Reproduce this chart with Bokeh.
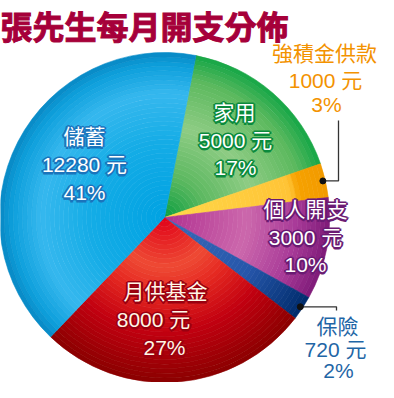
import numpy as np
from bokeh.plotting import figure
from bokeh.models import ColumnDataSource
from bokeh.core.properties import value
from bokeh.embed import file_html
from bokeh.resources import INLINE

# ---------------- data ----------------
title_text = "張先生每月開支分佈"
categories = ["家用", "強積金供款", "個人開支", "保險", "月供基金", "儲蓄"]
amounts = [5000, 1000, 3000, 720, 8000, 12280]
percents = [17, 3, 10, 2, 27, 41]
unit = "元"

# ---------------- styles / layout ----------------
W, H = 378, 382
CX, CY, R = 164, 165, 165
START_DEG = 11.0  # clockwise from 12 o'clock where first slice starts

# radial colour stops per slice (fraction of radius, colour)
slice_stops = [
    [(0.0, "#0a9e40"), (0.25, "#5cb860"), (0.55, "#8ecc84"), (0.85, "#5cb95e"), (1.0, "#14a646")],
    [(0.0, "#ffd84a"), (0.78, "#ffc436"), (0.83, "#f6a200"), (1.0, "#f29a00")],
    [(0.0, "#b03090"), (0.5, "#cc68ac"), (0.8, "#a83a98"), (1.0, "#7e1a78")],
    [(0.0, "#3a6ab8"), (0.6, "#2656aa"), (1.0, "#002c6c")],
    [(0.0, "#e00018"), (0.3, "#ee4a34"), (0.45, "#e62a22"), (0.7, "#c20010"), (1.0, "#8a0000")],
    [(0.0, "#00a2e2"), (0.45, "#14ace6"), (0.75, "#36b8ee"), (0.92, "#0ea0dc"), (1.0, "#0888c4")],
]

# label lines: (x, y) per line, data coordinates
label_pos = [
    [(234, 270), (235, 242), (235, 215)],
    [(324, 329), (325, 302), (326, 278)],
    [(305, 173), (305, 145), (305, 118)],
    [(337, 56), (335, 33), (338, 12)],
    [(165, 91), (153, 63), (164, 35)],
    [(84, 246), (84, 218), (84, 190)],
]
label_fill = ["#ffffff", "#f39200", "#ffffff", "#1f66a6", "#fff6e6", "#ffffff"]
label_outline = ["#0a8a3c", None, "#6a1a72", None, "#9a0010", "#1a74bc"]
LABEL_FONT = "'Liberation Sans', 'Noto Sans CJK TC', sans-serif"
HALO = [(-1.5, 0), (1.5, 0), (0, -1.5), (0, 1.5)]


def hex2rgb(h):
    h = h.lstrip("#")
    return np.array([int(h[i:i + 2], 16) for i in (0, 2, 4)], dtype=float)


def color_at(stops, f):
    for (f0, c0), (f1, c1) in zip(stops[:-1], stops[1:]):
        if f0 <= f <= f1:
            t = 0 if f1 == f0 else (f - f0) / (f1 - f0)
            c = hex2rgb(c0) * (1 - t) + hex2rgb(c1) * t
            return "#%02x%02x%02x" % tuple(int(round(v)) for v in c)
    return stops[-1][1]


p = figure(width=W, height=H, x_range=(0, W), y_range=(0, H),
           output_backend="svg", toolbar_location=None, min_border=0)
p.axis.visible = False
p.grid.visible = False
p.outline_line_color = None
p.background_fill_color = "white"
p.border_fill_color = "white"

total = float(sum(amounts))
cum = START_DEG
slice_angles = []
N = 36
xs, ys, rin, rout, a0s, a1s, cols = [], [], [], [], [], [], []
for i, amt in enumerate(amounts):
    span = amt / total * 360.0
    t0, t1 = cum, cum + span
    slice_angles.append((t0, t1))
    cum = t1
    start = np.radians(90 - t1)
    end = np.radians(90 - t0)
    for k in range(N):
        f0, f1 = k / N, (k + 1) / N
        xs.append(CX); ys.append(CY)
        rin.append(R * f0); rout.append(R * f1)
        a0s.append(start); a1s.append(end)
        cols.append(color_at(slice_stops[i], (f0 + f1) / 2))

src = ColumnDataSource(dict(x=xs, y=ys, ri=rin, ro=rout, a0=a0s, a1=a1s, c=cols))
p.annular_wedge(x="x", y="y", inner_radius="ri", outer_radius="ro",
                start_angle="a0", end_angle="a1", fill_color="c",
                line_color="c", line_width=0.6, source=src)


def rim_point(idx, frac):
    t0, t1 = slice_angles[idx]
    m = np.radians((t0 + t1) / 2)
    return CX + R * frac * np.sin(m), CY + R * frac * np.cos(m)


ox, oy = rim_point(1, 0.985)
p.line([ox, 338, 338], [oy, oy, 262], line_color="#333333", line_width=1.3)
bx, by = rim_point(3, 0.985)
p.line([bx, 336, 336], [by, by, 72], line_color="#333333", line_width=1.3)
p.scatter([ox, bx], [oy, by], size=6, color="#111111")

# labels
for i, cat in enumerate(categories):
    lines = [cat, f"{amounts[i]} {unit}", f"{percents[i]}%"]
    d = ColumnDataSource(dict(x=[q[0] for q in label_pos[i]],
                              y=[q[1] for q in label_pos[i]], t=lines))
    common = dict(text_font=value(LABEL_FONT), text_align="center",
                  text_baseline="middle", text_font_size="21px")
    if label_outline[i] is None:
        p.text(x="x", y="y", text="t", source=d, text_color=label_fill[i], **common)
    else:
        for dx, dy in HALO:
            p.text(x="x", y="y", text="t", source=d, text_color=label_outline[i],
                   text_outline_color=label_outline[i], x_offset=dx, y_offset=dy,
                   **common)
        p.text(x="x", y="y", text="t", source=d, text_color=label_fill[i], **common)

# title
p.text(x=[0], y=[H - 1], text=[title_text], text_color="#a6003a",
       text_outline_color="#a6003a",
       text_font=value("Noto Sans CJK TC"), text_font_style="bold",
       text_font_size="32px", text_align="left", text_baseline="top")

open("out.html", "w").write(file_html(p, INLINE))
